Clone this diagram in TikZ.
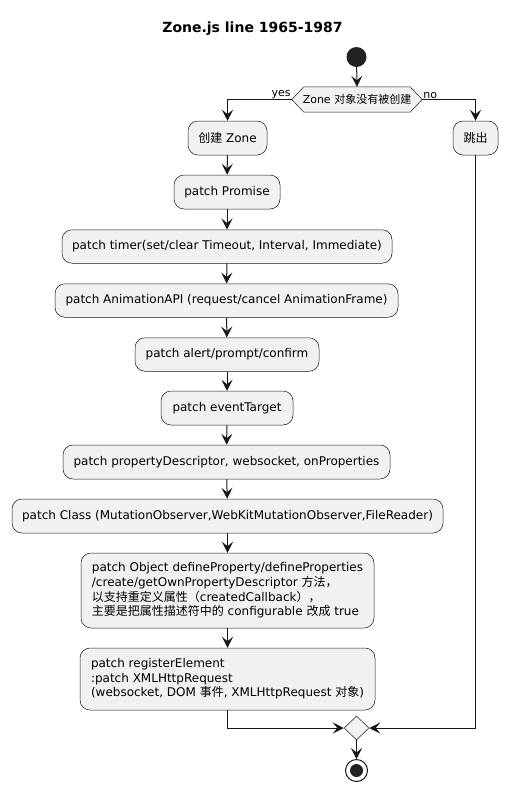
\documentclass[tikz,border=0pt]{standalone}
\usepackage{fontspec}
\setmainfont{DejaVu Sans}
\newfontfamily\cjk{Noto Sans CJK SC}
\usetikzlibrary{arrows.meta,shapes.geometric}
\definecolor{boxfill}{HTML}{F1F1F1}
\definecolor{ink}{HTML}{181818}
\definecolor{dot}{HTML}{222222}
\tikzset{
  actbox/.style={draw=ink, line width=0.5pt, fill=boxfill, rounded corners=10pt,
    inner sep=0pt, font=\fontsize{12}{14.6}\selectfont, text=black},
  arr/.style={draw=ink, line width=1pt, -{Stealth[length=11pt,width=11pt,inset=4.5pt]}},
  lbl/.style={font=\fontsize{11}{13}\selectfont, inner sep=1pt, text=black}
}
\begin{document}
\begin{tikzpicture}[x=1pt,y=-1pt]
\useasboundingbox (0,0) rectangle (507,792);
\node[font=\bfseries\fontsize{14}{16}\selectfont] (title) at (252.5,29) {Zone.js line 1965-1987};
% start
\node[circle, fill=dot, minimum size=20pt, inner sep=0pt] (start) at (356.5,57) {};
% decision
\node[minimum width=130pt, minimum height=25pt, inner sep=0pt] (dec) at (357,99.5) {};
\draw[draw=ink, line width=0.5pt, fill=boxfill]
  ([xshift=12pt]dec.north west) -- ([xshift=-12pt]dec.north east) -- (dec.east)
  -- ([xshift=-12pt]dec.south east) -- ([xshift=12pt]dec.south west) -- (dec.west) -- cycle;
\node[font=\fontsize{11}{13}\selectfont] (dectext) at (dec.center) {Zone {\cjk 对象没有被创建}};
% boxes
\node[actbox, minimum width=79pt, minimum height=34pt] (b1) at (227.5,138) {{\cjk 创建} Zone};
\node[actbox, minimum width=45pt, minimum height=34pt] (skip) at (475.5,138) {{\cjk 跳出}};
\node[actbox, minimum width=106pt, minimum height=34pt] (b2) at (227,192) {patch Promise};
\node[actbox, minimum width=330pt, minimum height=33.5pt] (b3) at (227,246.5) {patch timer(set/clear Timeout, Interval, Immediate)};
\node[actbox, minimum width=343pt, minimum height=33.5pt] (b4) at (226.5,300.5) {patch AnimationAPI (request/cancel AnimationFrame)};
\node[actbox, minimum width=184pt, minimum height=33.5pt] (b5) at (227,354.5) {patch alert/prompt/confirm};
\node[actbox, minimum width=132pt, minimum height=34pt] (b6) at (227,408) {patch eventTarget};
\node[actbox, minimum width=327pt, minimum height=34pt] (b7) at (226.5,462) {patch propertyDescriptor, websocket, onProperties};
\node[actbox, minimum width=431pt, minimum height=34pt] (b8) at (227.5,516) {patch Class (MutationObserver,WebKitMutationObserver,FileReader)};
\node[actbox, minimum width=293pt, minimum height=75pt, align=left] (b9) at (227.5,590.5)
  {patch Object defineProperty/defineProperties\\/create/getOwnPropertyDescriptor {\cjk 方法，}\\{\cjk 以支持重定义属性（}createdCallback{\cjk ），}\\{\cjk 主要是把属性描述符中的} configurable {\cjk 改成} true};
\node[actbox, minimum width=295pt, minimum height=62pt, align=left] (b10) at (227.5,679)
  {patch registerElement\\:patch XMLHttpRequest\\(websocket, DOM {\cjk 事件}, XMLHttpRequest {\cjk 对象})};
% merge
\node[diamond, draw=ink, line width=0.5pt, fill=boxfill, minimum width=25pt, minimum height=24pt, inner sep=0pt] (merge) at (356.5,728) {};
% end
\node[circle, draw=ink, line width=1pt, fill=white, minimum size=22pt, inner sep=0pt] (end) at (356.5,770.5) {};
\node[circle, fill=dot, minimum size=13pt, inner sep=0pt] (endin) at (end.center) {};
% connectors
\draw[arr] (start) -- (dec.north);
\draw[arr] (dec.west) -| (b1.north);
\draw[arr] (dec.east) -| (skip.north);
\node[lbl, anchor=south east] (yes) at (dec.west) {yes};
\node[lbl, anchor=south west] (no) at (dec.east) {no};
\draw[arr] (b1) -- (b2);
\draw[arr] (b2) -- (b3);
\draw[arr] (b3) -- (b4);
\draw[arr] (b4) -- (b5);
\draw[arr] (b5) -- (b6);
\draw[arr] (b6) -- (b7);
\draw[arr] (b7) -- (b8);
\draw[arr] (b8) -- (b9);
\draw[arr] (b9) -- (b10);
\draw[arr] (b10.south) |- (merge.west);
\draw[arr] (skip.south) |- (merge.east);
\draw[arr] (merge.south) -- (end.north);
\end{tikzpicture}
\end{document}
